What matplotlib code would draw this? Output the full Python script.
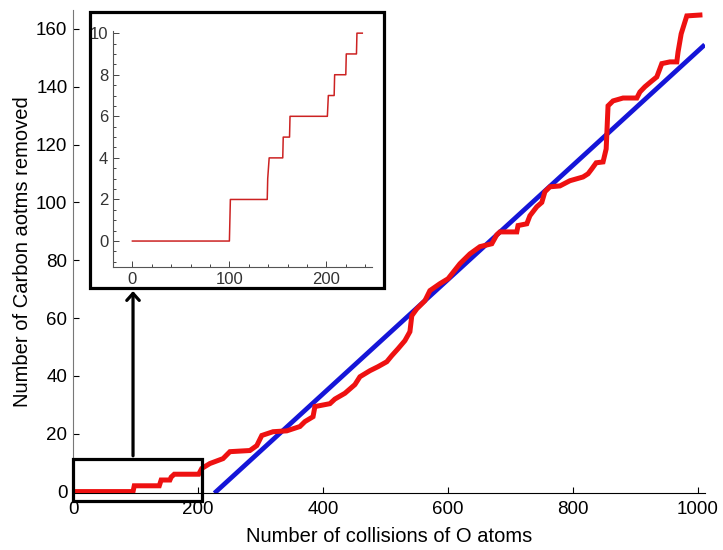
import numpy as np
import matplotlib
matplotlib.use("Agg")
import matplotlib.pyplot as plt
from matplotlib.patches import Rectangle

plt.rcParams['font.family'] = ['Liberation Sans', 'DejaVu Sans']

# main red curve (simulation)
collisions = [0, 96, 98, 138, 141, 155, 157, 162, 201, 206, 219, 240, 251, 283, 294,
              302, 320, 342, 363, 371, 384, 387, 411, 419, 435, 451, 459, 475, 488,
              502, 510, 520, 531, 539, 542, 550, 563, 571, 587, 600, 619, 635, 651,
              670, 678, 683, 710, 712, 726, 731, 742, 750, 755, 763, 779, 795, 816,
              824, 830, 837, 848, 853, 856, 864, 880, 902, 907, 915, 926, 934, 942,
              955, 966, 968, 973, 982, 1003]
removed = [0, 0, 2, 2, 4, 4, 5, 6, 6, 8, 9.7, 11.4, 13.8, 14.2, 15.9,
           19.4, 20.7, 21, 22.5, 24.2, 25.9, 29.4, 30.4, 32, 34, 37, 39.7, 41.8, 43.2,
           44.9, 47, 49.4, 52.2, 55.3, 60.8, 63.2, 66, 69.5, 71.9, 73.6, 78.8, 82.2, 84.7,
           85.7, 88.8, 89.8, 89.8, 92, 92.6, 95.4, 98.5, 100, 103.7, 105.4, 105.7, 107.5, 108.8,
           109.9, 111.6, 113.7, 114, 118.5, 133.4, 135.1, 136.1, 136.1, 138.2, 140, 142, 143.4, 148,
           148.6, 148.6, 152, 158.3, 164.5, 164.8]

# linear fit (blue)
fit_x = [229, 1008]
fit_y = [0, 154]

# inset: first collisions, step data
inset_x = [0, 100, 101, 139, 139.5, 141, 155, 155.5, 162, 162.5, 201, 202, 208, 208.5,
           220, 220.5, 231, 231.5, 237]
inset_y = [0, 0, 2, 2, 3, 4, 4, 5, 5, 6, 6, 7, 7, 8, 8, 9, 9, 10, 10]

fig = plt.figure(figsize=(7.23, 5.5), dpi=100)
ax = fig.add_axes([0.101, 0.1036, 0.874, 0.878])

ax.plot(collisions, removed, color='#ee1111', lw=3.6, solid_joinstyle='miter', zorder=3)
ax.plot(fit_x, fit_y, color='#1515d8', lw=3.4, zorder=2)

ax.set_xlim(0, 1011)
ax.set_ylim(-0.5, 166.5)
ax.set_xticks([0, 200, 400, 600, 800, 1000])
ax.set_yticks(np.arange(0, 161, 20))
ax.tick_params(direction='in', length=4, width=0.8, labelsize=13.5)
ax.tick_params(axis='x', pad=6)
ax.tick_params(axis='y', pad=4)
for s in ['top', 'right']:
    ax.spines[s].set_visible(False)
ax.spines['left'].set_color('#777777')
ax.spines['bottom'].set_color('black')
ax.set_xlabel('Number of collisions of O atoms', fontsize=14.5, labelpad=6)
ax.set_ylabel('Number of Carbon aotms removed', fontsize=14.5, labelpad=3)

# zoom box around the start of the curve
ax.add_patch(Rectangle((0, -3.2), 206, 14.6, fill=False, lw=2.3, ec='black',
                       clip_on=False, zorder=4))
ax.annotate('', xy=(96, 70.3), xytext=(96, 11.4),
            arrowprops=dict(arrowstyle='->,head_length=0.5,head_width=0.45',
                            lw=2.3, color='black'),
            annotation_clip=False, zorder=5)

# inset frame
fig.patches.append(Rectangle((0.1245, 0.4764), 0.4066, 0.5018, fill=False, lw=2.3,
                             ec='black', transform=fig.transFigure, figure=fig))

ins = fig.add_axes([0.1563, 0.5145, 0.3582, 0.429])
ins.plot(inset_x, inset_y, color='#cc2222', lw=1.1)
ins.set_xlim(-20, 247)
ins.set_ylim(-1.25, 10.1)
ins.set_xticks([0, 100, 200])
ins.set_xticks(np.arange(-20, 247, 20), minor=True)
ins.set_yticks(np.arange(0, 11, 2))
ins.set_yticks(np.arange(-1, 10.1, 0.5), minor=True)
ins.tick_params(which='both', direction='in', colors='#444444', labelcolor='#333333',
                labelsize=12, width=0.7)
ins.tick_params(which='major', length=4)
ins.tick_params(which='minor', length=2)
for s in ['top', 'right']:
    ins.spines[s].set_visible(False)
for s in ['left', 'bottom']:
    ins.spines[s].set_color('#555555')
    ins.spines[s].set_linewidth(0.8)

fig.savefig('out.png', dpi=100)
